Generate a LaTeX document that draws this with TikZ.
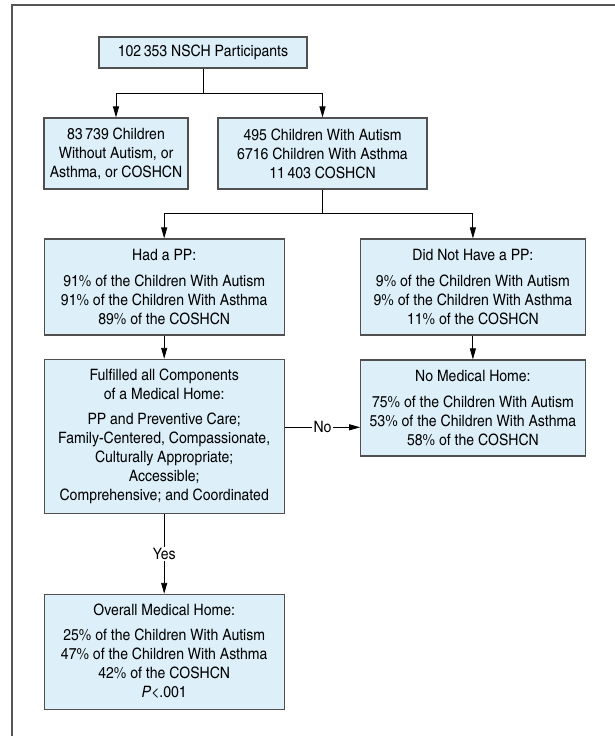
\documentclass[tikz,border=0pt]{standalone}
\usepackage{fontspec}
\setmainfont{texgyreheroscn}[Extension=.otf, UprightFont=*-regular, ItalicFont=*-italic, FakeStretch=1.09]
\usetikzlibrary{arrows.meta,calc}
\definecolor{boxfill}{RGB}{221,240,250}
\definecolor{boxline}{RGB}{80,80,80}
\definecolor{frameline}{RGB}{85,85,85}
\newcommand{\boxfont}{\fontsize{15.7}{19}\selectfont}
\tikzset{
  box/.style={draw=boxline, fill=boxfill, line width=1.1pt, align=center, inner sep=0pt, font=\boxfont},
  conn/.style={draw=black, line width=0.9pt},
  arr/.style={conn, -{Triangle[length=11pt,width=6pt]}},
  lbl/.style={fill=white, inner sep=1.2pt, font=\boxfont}
}
\begin{document}
\begin{tikzpicture}[x=1pt,y=-1pt]
\useasboundingbox (0,0) rectangle (615,736);
\draw[frameline, line width=1.5pt] (12,740) -- (12,5) -- (620,5);

\node[box, minimum width=208pt, minimum height=31pt] (top) at (203,52.5) {102\,353 NSCH Participants};
\node[box, minimum width=144pt, minimum height=71pt] (none) at (116,153.5) {83\,739 Children\\Without Autism, or\\Asthma, or COSHCN};
\node[box, minimum width=209pt, minimum height=71pt] (with) at (322.5,153.5) {495 Children With Autism\\6716 Children With Asthma\\11\,403 COSHCN};
\node[box, minimum width=240.3pt, minimum height=96pt] (had) at (164.2,287) {Had a PP:\\[6.5pt]91\% of the Children With Autism\\91\% of the Children With Asthma\\89\% of the COSHCN};
\node[box, minimum width=224.3pt, minimum height=96pt] (didnot) at (472.9,287) {Did Not Have a PP:\\[6.5pt]9\% of the Children With Autism\\9\% of the Children With Asthma\\11\% of the COSHCN};
\node[box, minimum width=240.3pt, minimum height=153.7pt] (fulf) at (164.2,436.2) {Fulfilled all Components\\of a Medical Home:\\[6pt]PP and Preventive Care;\\Family-Centered, Compassionate,\\Culturally Appropriate;\\Accessible;\\Comprehensive; and Coordinated};
\node[box, minimum width=224.3pt, minimum height=96pt] (nomh) at (472.9,408) {No Medical Home:\\[6.5pt]75\% of the Children With Autism\\53\% of the Children With Asthma\\58\% of the COSHCN};
\node[box, minimum width=240.3pt, minimum height=114.7pt] (overall) at (164.2,651.7) {Overall Medical Home:\\[6pt]25\% of the Children With Autism\\47\% of the Children With Asthma\\42\% of the COSHCN\\\textit{P}<.001};

\coordinate (b1) at (203,93);
\coordinate (b2) at (322.5,213.3);
\draw[conn] (top.south) -- (b1);
\draw[arr] (b1) -| (none.north);
\draw[arr] (b1) -| (with.north);
\draw[conn] (with.south) -- (b2);
\draw[arr] (b2) -| (had.north);
\draw[arr] (b2) -| (didnot.north);
\draw[arr] (had.south) -- (fulf.north);
\draw[arr] (didnot.south) -- (nomh.north);
\draw[arr] ([yshift=8.9pt]fulf.east) -- node[lbl]{No} ([yshift=8.9pt]fulf.east -| nomh.west);
\draw[arr] (fulf.south) -- node[lbl]{Yes} (overall.north);
\end{tikzpicture}
\end{document}
